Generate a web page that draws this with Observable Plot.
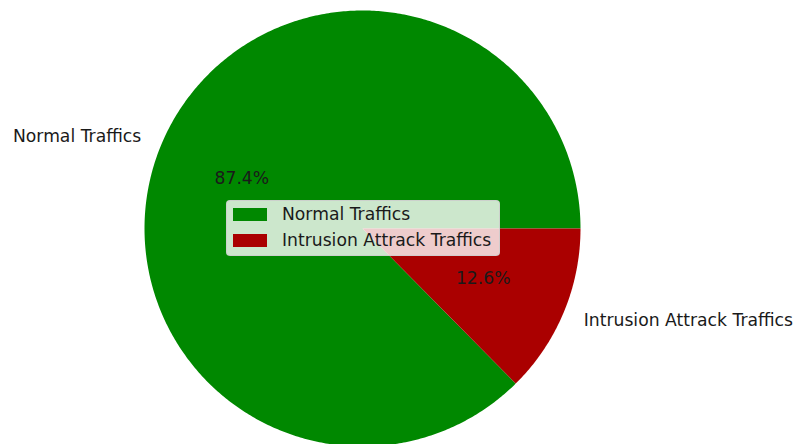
<!DOCTYPE html>
<html>
<head>
<meta charset="utf-8">
<script src="https://cdn.jsdelivr.net/npm/d3@7"></script>
<script src="https://cdn.jsdelivr.net/npm/@observablehq/plot@0.6"></script>
<style>
  body { margin: 0; background: #fff; font-family: "DejaVu Sans", sans-serif; }
  #wrap { position: relative; width: 798px; height: 444px; overflow: hidden; }
  #legend {
    position: absolute; left: 226px; top: 200px; width: 274px; height: 56px;
    background: rgba(255,255,255,0.8); border: 1px solid rgba(204,204,204,0.8);
    border-radius: 4px; box-sizing: border-box; font-size: 17.2px; color: #1a1a1a;
  }
  .item { position: absolute; left: 6px; height: 20px; line-height: 20px; display: flex; align-items: center; }
  .sw { width: 34px; height: 13px; margin-right: 15px; }
</style>
</head>
<body>
<div id="wrap"></div>
<script>
const categories = ["Normal Traffics", "Intrusion Attrack Traffics"];
const values = [87.4, 12.6];
const colors = ["#008800", "#aa0000"];

const total = d3.sum(values);
let acc = 0;
const slices = categories.map((c, i) => {
  const start = acc / total * 2 * Math.PI;
  acc += values[i];
  const end = acc / total * 2 * Math.PI;
  return {category: c, value: values[i], start, end, mid: (start + end) / 2, color: colors[i]};
});

const pts = [];
for (const s of slices) {
  pts.push({category: s.category, x: 0, y: 0});
  const n = Math.max(2, Math.ceil((s.end - s.start) / 0.01));
  for (let k = 0; k <= n; k++) {
    const a = s.start + (s.end - s.start) * k / n;
    pts.push({category: s.category, x: Math.cos(a), y: Math.sin(a)});
  }
}
const labels = slices.map(s => ({
  text: s.category, x: 1.1 * Math.cos(s.mid), y: 1.1 * Math.sin(s.mid),
  anchor: Math.cos(s.mid) < 0 ? "end" : "start"
}));
const pcts = slices.map(s => ({
  text: (s.value / total * 100).toFixed(1) + "%", x: 0.6 * Math.cos(s.mid), y: 0.6 * Math.sin(s.mid)
}));

const W = 798, H = 444, cx = 362, cy = 228, R = 218;
const fs = 17.2, tc = "#1a1a1a";
const chart = Plot.plot({
  width: W, height: H, margin: 0,
  x: {domain: [-cx / R, (W - cx) / R], range: [0, W], axis: null},
  y: {domain: [-(H - cy) / R, cy / R], range: [H, 0], axis: null},
  color: {domain: categories, range: colors},
  style: {fontFamily: "DejaVu Sans, sans-serif"},
  marks: [
    Plot.line(pts, {x: "x", y: "y", z: "category", fill: "category", stroke: "none"}),
    Plot.text(labels.filter(d => d.anchor === "end"), {x: "x", y: "y", text: "text", textAnchor: "end", fontSize: fs, fill: tc}),
    Plot.text(labels.filter(d => d.anchor === "start"), {x: "x", y: "y", text: "text", textAnchor: "start", fontSize: fs, fill: tc}),
    Plot.text(pcts, {x: "x", y: "y", text: "text", fontSize: fs, fill: tc})
  ]
});
const wrap = document.getElementById("wrap");
wrap.appendChild(chart);

const legend = document.createElement("div");
legend.id = "legend";
slices.forEach((s, i) => {
  const it = document.createElement("div");
  it.className = "item";
  it.style.top = (3 + i * 26) + "px";
  const sw = document.createElement("span");
  sw.className = "sw";
  sw.style.background = s.color;
  const t = document.createElement("span");
  t.textContent = s.category;
  it.appendChild(sw); it.appendChild(t);
  legend.appendChild(it);
});
wrap.appendChild(legend);
</script>
</body>
</html>
